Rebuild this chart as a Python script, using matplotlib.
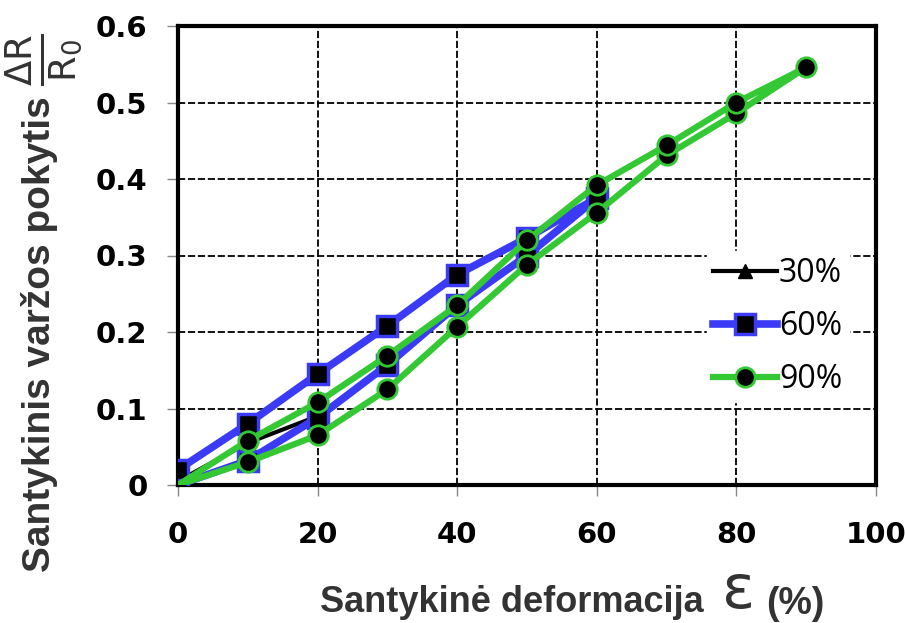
import matplotlib
matplotlib.use('Agg')
import matplotlib.pyplot as plt

# deformation (%) - loading then unloading
strain_30 = [0, 10, 20, 30]
strain_60 = [0, 10, 20, 30, 40, 50, 60, 50, 40, 30, 20, 10, 0]
strain_90 = [0, 10, 20, 30, 40, 50, 60, 70, 80, 90, 80, 70, 60, 50, 40, 30, 20, 10, 0]

# relative resistance change dR/R0
dr_30 = [0.005, 0.055, 0.090, 0.157]
dr_60 = [0.0, 0.032, 0.088, 0.157, 0.235, 0.300, 0.375,
         0.323, 0.275, 0.208, 0.145, 0.080, 0.020]
dr_90 = [0.0, 0.030, 0.065, 0.125, 0.207, 0.288, 0.356, 0.431, 0.486, 0.546,
         0.500, 0.444, 0.392, 0.320, 0.235, 0.169, 0.108, 0.058, 0.0]

labels = ['30%', '60%', '90%']
xticks = [0, 20, 40, 60, 80, 100]
yticks = [0, 0.1, 0.2, 0.3, 0.4, 0.5, 0.6]

blue = '#3b3bf7'
green = '#34c834'
txt_gray = '#333333'

fig = plt.figure(figsize=(9.05, 6.23), dpi=100)
ax = fig.add_axes([178/905, 1-485/623, 698/905, 459/623])

ax.plot(strain_30, dr_30, color='black', lw=3, marker='^', ms=10,
        mfc='black', mec='black', label=labels[0], zorder=3)
ax.plot(strain_60, dr_60, color=blue, lw=5.5, marker='s', ms=15,
        mfc='black', mec=blue, mew=2.5, label=labels[1], zorder=4)
ax.plot(strain_90, dr_90, color=green, lw=4.5, marker='o', ms=14,
        mfc='black', mec=green, mew=2, label=labels[2], zorder=5,
        markevery=list(range(1, len(strain_90) - 1)))

ax.set_xlim(0, 100)
ax.set_ylim(0, 0.6)
ax.set_xticks(xticks)
ax.set_yticks(yticks)
ax.set_xticklabels([str(v) for v in xticks])
ax.set_yticklabels(['0'] + ['%.1f' % v for v in yticks[1:]])
ax.grid(True, color='black', lw=1.3, linestyle=(0, (4, 1.5)))
ax.set_axisbelow(True)
for s in ax.spines.values():
    s.set_linewidth(3)
    s.set_color('black')
ax.tick_params(direction='out', length=8, width=1, color='#888888',
               labelsize=21, pad=14)
ax.tick_params(axis='x', pad=18)
for t in ax.get_xticklabels() + ax.get_yticklabels():
    t.set_fontweight('bold')

leg = ax.legend(loc='upper left', bbox_to_anchor=(0.735, 0.545), frameon=True,
                fancybox=False, framealpha=1, edgecolor='white',
                prop={'family': 'Open Sans', 'size': 23},
                handlelength=2.0, handletextpad=0.05, labelspacing=0.62,
                borderpad=0.2, markerscale=1.0)
leg.set_zorder(6)

# axis titles
fig.text(40/905, 1-572/623, 'Santykinis varžos pokytis', rotation=90,
         ha='center', va='bottom', fontsize=28, fontweight='bold',
         family='Liberation Sans', color=txt_gray)
fig.text(44/905, 1-60/623, r'$\frac{\Delta\mathrm{R}}{\mathrm{R_0}}$',
         rotation=90, ha='center', va='center', fontsize=38, color=txt_gray)
fig.text(320/905, 1-612/623, 'Santykinė deformacija', ha='left',
         va='baseline', fontsize=26, fontweight='bold',
         family='Liberation Sans', color=txt_gray)
fig.text(722/905, 1-608/623, 'ε', ha='left', va='baseline', fontsize=44,
         color=txt_gray)
fig.text(766/905, 1-614/623, '(%)', ha='left', va='baseline', fontsize=27,
         fontweight='bold', family='Liberation Sans', color=txt_gray)

fig.savefig('out.png', dpi=100)
